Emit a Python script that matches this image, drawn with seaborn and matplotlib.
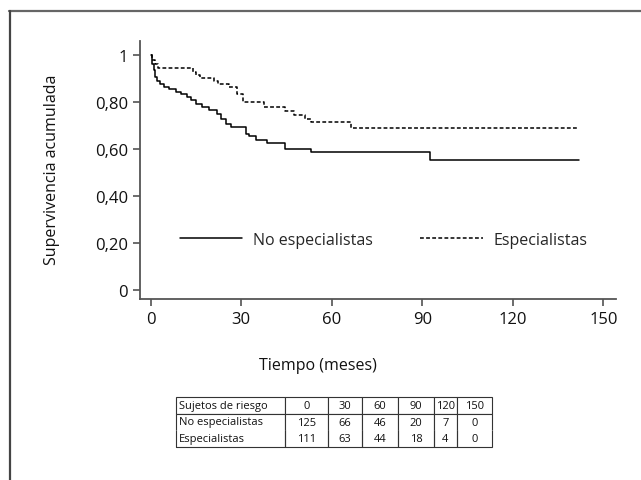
import numpy as np
import pandas as pd
import matplotlib
matplotlib.use("Agg")
import matplotlib.pyplot as plt
from matplotlib.lines import Line2D
import seaborn as sns

# ---- data ----
groups = ["No especialistas", "Especialistas"]

t_no_esp = [0, 0.5, 1.0, 1.5, 2.0, 3.0, 4.5, 6.0, 8.5, 10.0, 12.0, 13.5, 15.0, 17.0,
            19.5, 22.0, 23.5, 25.0, 26.5, 31.5, 32.5, 35.0, 38.5, 44.5, 53.0, 92.5, 142.0]
s_no_esp = [1.0, 0.96, 0.935, 0.905, 0.89, 0.875, 0.865, 0.855, 0.845, 0.835, 0.82, 0.81,
            0.79, 0.778, 0.766, 0.749, 0.728, 0.705, 0.695, 0.664, 0.655, 0.64, 0.627,
            0.60, 0.586, 0.553, 0.553]

t_esp = [0, 0.5, 1.5, 2.5, 14.0, 15.0, 16.5, 21.0, 22.5, 26.0, 28.5, 30.5, 37.5, 44.5,
         47.5, 51.0, 53.0, 66.5, 142.0]
s_esp = [1.0, 0.98, 0.96, 0.945, 0.93, 0.915, 0.902, 0.89, 0.877, 0.863, 0.834, 0.80,
         0.78, 0.76, 0.745, 0.73, 0.717, 0.689, 0.689]

x_ticks = [0, 30, 60, 90, 120, 150]
y_ticks = [0, 0.2, 0.4, 0.6, 0.8, 1.0]
y_ticklabels = ["0", "0,20", "0,40", "0,60", "0,80", "1"]

table_header = ["Sujetos de riesgo", "0", "30", "60", "90", "120", "150"]
risk_no_esp = [125, 66, 46, 20, 7, 0]
risk_esp = [111, 63, 44, 18, 4, 0]

# ---- build long table ----
df = pd.concat([
    pd.DataFrame({"tiempo": t_no_esp, "surv": s_no_esp, "grupo": groups[0]}),
    pd.DataFrame({"tiempo": t_esp, "surv": s_esp, "grupo": groups[1]}),
], ignore_index=True)

sns.set_style("ticks")
plt.rcParams["font.family"] = ["Open Sans", "DejaVu Sans"]

W, H = 641, 481
fig = plt.figure(figsize=(W / 100, H / 100), dpi=100)
ax = fig.add_axes([140 / W, 1 - 300 / H, 476 / W, 258 / H])

sns.lineplot(data=df, x="tiempo", y="surv", style="grupo", style_order=groups,
             dashes=["", (2.5, 1.5)], color="black", estimator=None,
             drawstyle="steps-post", linewidth=1.1, ax=ax)

ax.set_xlim(-3.5, 154.2)
ax.set_ylim(-0.038, 1.06)
ax.set_xticks(x_ticks)
ax.set_xticklabels([str(v) for v in x_ticks])
ax.set_yticks(y_ticks)
ax.set_yticklabels(y_ticklabels)
ax.tick_params(axis="both", labelsize=12, length=5, width=1.1, color="#444444",
               labelcolor="#111111")
for side in ["top", "right"]:
    ax.spines[side].set_visible(False)
for side in ["left", "bottom"]:
    ax.spines[side].set_color("#555555")
    ax.spines[side].set_linewidth(1.3)

ax.set_xlabel("Tiempo (meses)", fontsize=11.5, color="#111111")
ax.set_ylabel("Supervivencia acumulada", fontsize=11.5, color="#111111")
ax.xaxis.set_label_coords(0.374, -0.225)
ax.yaxis.set_label_coords(-0.168, 0.504)

handles, labels = ax.get_legend_handles_labels()
if ax.get_legend() is not None:
    ax.get_legend().remove()
ax.legend(handles, labels, ncol=2, frameon=False, loc="center left",
          bbox_to_anchor=(0.084, 0.229), borderpad=0, borderaxespad=0,
          handlelength=3.9, handletextpad=0.65, columnspacing=3.0,
          fontsize=11.5)

# ---- risk table ----
tx0, tx1, ty0, ty1 = 176, 492, 398, 448
tax = fig.add_axes([tx0 / W, 1 - ty1 / H, (tx1 - tx0) / W, (ty1 - ty0) / H])
tax.axis("off")
col_bounds = [176, 285, 328, 362, 398, 434, 457, 492]
col_widths = [(col_bounds[i + 1] - col_bounds[i]) / (tx1 - tx0) for i in range(7)]
cell_text = [table_header,
             [groups[0]] + [str(v) for v in risk_no_esp],
             [groups[1]] + [str(v) for v in risk_esp]]
tbl = tax.table(cellText=cell_text, colWidths=col_widths, bbox=[0, 0, 1, 1],
                cellLoc="center")
tbl.auto_set_font_size(False)
tbl.set_fontsize(8)
for (r, c), cell in tbl.get_celld().items():
    cell.set_linewidth(0.8)
    cell.set_edgecolor("#333333")
    if r == 0:
        cell.visible_edges = "closed"
    elif r == 1:
        cell.visible_edges = "LRT"
    else:
        cell.visible_edges = "LRB"
    cell.PAD = 0.03
    if c == 0:
        cell.get_text().set_ha("left")
        cell._loc = "left"
    cell.get_text().set_color("#111111")

# ---- outer frame (top and left edges) ----
fig.add_artist(Line2D([9 / W, 1.0], [1 - 12 / H, 1 - 12 / H], transform=fig.transFigure,
                      color="#666666", linewidth=1.6))
fig.add_artist(Line2D([10 / W, 10 / W], [1 - 12 / H, 0], transform=fig.transFigure,
                      color="#444444", linewidth=1.6))

fig.savefig("out.png", dpi=100, facecolor="white")
